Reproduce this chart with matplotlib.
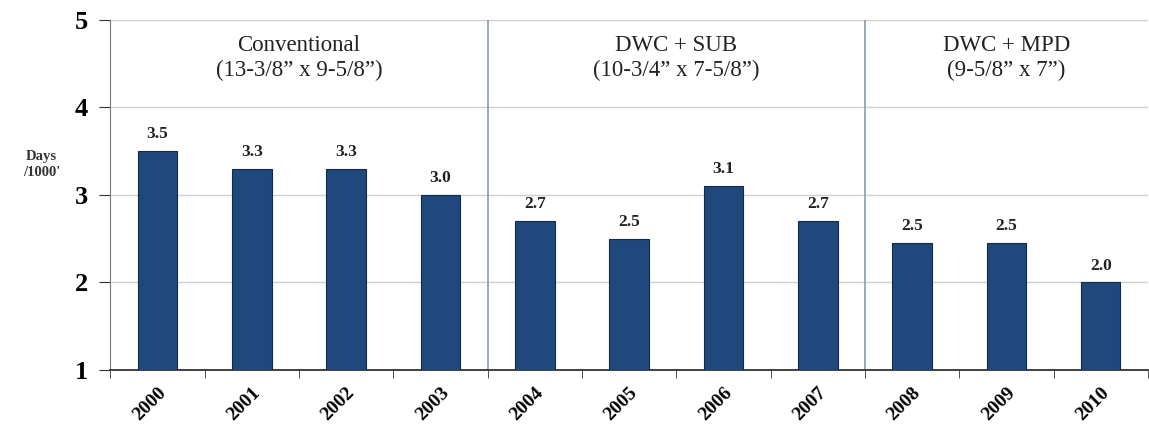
import numpy as np
import matplotlib.pyplot as plt

# data
years = ['2000', '2001', '2002', '2003', '2004', '2005', '2006', '2007', '2008', '2009', '2010']
days = [3.5, 3.3, 3.3, 3.0, 2.7, 2.5, 3.1, 2.7, 2.45, 2.45, 2.0]
value_labels = ['3.5', '3.3', '3.3', '3.0', '2.7', '2.5', '3.1', '2.7', '2.5', '2.5', '2.0']
group_names = ['Conventional\n(13-3/8\u201d x 9-5/8\u201d)',
               'DWC + SUB\n(10-3/4\u201d x 7-5/8\u201d)',
               'DWC + MPD\n(9-5/8\u201d x 7\u201d)']
group_sizes = [4, 4, 3]

plt.rcParams['font.family'] = ['Liberation Serif', 'DejaVu Serif']

fig = plt.figure(figsize=(11.49, 4.33), dpi=100)
ax = fig.add_axes([0.096, 0.146, 0.903, 0.808])

x = np.arange(len(years))
ax.bar(x, [d - 1 for d in days], bottom=1, width=0.42,
       color='#1f487c', edgecolor='#13294a', linewidth=0.8, zorder=3)

for xi, d, lab in zip(x, days, value_labels):
    ax.text(xi, d + 0.1, lab, ha='center', va='bottom', fontsize=12.5,
            fontweight='bold', color='#222222')

# group separators and titles
start = 0
for i, (name, n) in enumerate(zip(group_names, group_sizes)):
    mid = start + (n - 1) / 2
    ax.text(mid, 4.83, name, ha='center', va='top', fontsize=16.5,
            color='#222222', linespacing=1.25)
    if i < len(group_sizes) - 1:
        ax.axvline(start + n - 0.5, color='#8a9ab3', linewidth=1.2, zorder=2)
    start += n

ax.set_xlim(-0.5, len(years) - 0.5)
ax.set_ylim(1, 5)
ax.set_yticks([1, 2, 3, 4, 5])
ax.yaxis.grid(True, color='#d0d0d0', linewidth=1, zorder=0)

ax.set_xticks(x)
ax.set_xticklabels(years, rotation=45, ha='right', rotation_mode='anchor',
                   fontsize=14, fontweight='bold')
ax.set_xticks(np.arange(-0.5, len(years)), minor=True)
ax.tick_params(axis='x', which='major', length=0, pad=10)
ax.tick_params(axis='x', which='minor', length=6, color='#333333')
ax.tick_params(axis='y', labelsize=19, length=8, pad=8, color='#333333')
for t in ax.get_yticklabels():
    t.set_fontweight('bold')

for s in ['top', 'right']:
    ax.spines[s].set_visible(False)
ax.spines['left'].set_color('#777777')
ax.spines['bottom'].set_color('#333333')
ax.spines['bottom'].set_linewidth(1.3)

fig.text(0.036, 0.62, "Days\n/1000'", ha='center', va='center', fontsize=10.5,
         fontweight='bold', color='#333333', linespacing=1.3)

fig.savefig('out.png', dpi=100, facecolor='white')
